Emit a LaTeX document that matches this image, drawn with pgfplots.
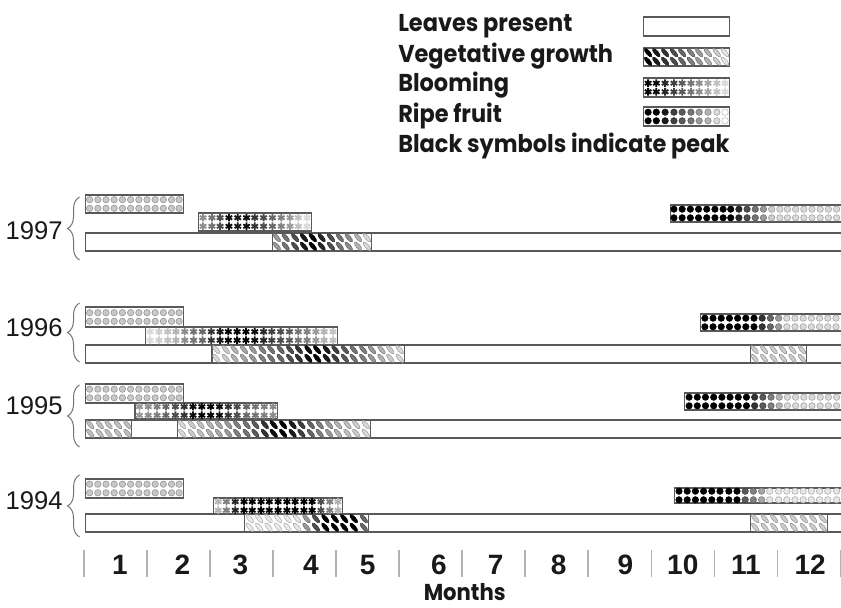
\documentclass[border=0pt]{standalone}
\usepackage{pgfplots}
\pgfplotsset{compat=1.18}
\usepackage{pgfplotstable}
\usepackage{fontspec}
\setmainfont{Liberation Sans}
\newfontfamily\pop{Poppins}[FakeStretch=0.92]
\usetikzlibrary{decorations.pathreplacing}

\pgfdeclareplotmark{leaf}{%
  \pgfpathellipse{\pgfpointorigin}{\pgfpoint{0.7\pgfplotmarksize}{-0.8\pgfplotmarksize}}{\pgfpoint{0.3\pgfplotmarksize}{0.26\pgfplotmarksize}}%
  \pgfusepathqfillstroke}

% symbol tables: x (month), c (0 = black = peak, 1 = white)
\pgfplotstableread[row sep=\\]{x c\\0.09 .78\\0.22 .78\\0.35 .78\\0.48 .78\\0.61 .78\\0.74 .78\\0.87 .78\\1.00 .78\\1.13 .78\\1.26 .78\\1.39 .78\\1.51 .78\\}\fruitL
% 1997
\pgfplotstableread[row sep=\\]{x c\\1.89 .55\\2.03 .45\\2.16 .3\\2.30 .05\\2.44 .1\\2.58 .05\\2.71 .2\\2.85 .3\\2.99 .4\\3.13 .5\\3.27 .6\\3.40 .75\\3.54 .85\\}\bA
\pgfplotstableread[row sep=\\]{x c\\3.06 .6\\3.20 .45\\3.35 .3\\3.49 .1\\3.63 0\\3.77 .15\\3.92 .3\\4.06 .45\\4.20 .55\\4.35 .7\\4.49 .85\\}\vA
\pgfplotstableread[row sep=\\]{x c\\9.36 0\\9.49 0\\9.62 0\\9.75 0\\9.88 0\\10.01 0\\10.14 0\\10.26 0\\10.39 .15\\10.52 .3\\10.65 .45\\10.78 .6\\10.91 .8\\11.04 .85\\11.16 .85\\11.29 .85\\11.42 .85\\11.55 .85\\11.68 .85\\11.81 .85\\11.94 .85\\}\fA
% 1996
\pgfplotstableread[row sep=\\]{x c\\1.05 .85\\1.19 .8\\1.33 .75\\1.46 .7\\1.60 .55\\1.74 .45\\1.88 .4\\2.02 .2\\2.16 .1\\2.29 0\\2.43 0\\2.57 0\\2.71 .05\\2.85 .15\\2.98 .25\\3.12 .3\\3.26 .35\\3.40 .45\\3.54 .5\\3.68 .6\\3.81 .7\\3.95 .75\\}\bB
\pgfplotstableread[row sep=\\]{x c\\2.10 .85\\2.25 .8\\2.39 .7\\2.54 .65\\2.68 .6\\2.83 .5\\2.97 .45\\3.12 .4\\3.27 .3\\3.41 .2\\3.56 .05\\3.70 0\\3.85 .1\\3.99 .25\\4.14 .35\\4.28 .45\\4.43 .5\\4.57 .6\\4.72 .7\\4.86 .8\\5.01 .85\\}\vB
\pgfplotstableread[row sep=\\]{x c\\9.85 0\\9.98 0\\10.11 0\\10.24 0\\10.37 0\\10.50 0\\10.63 0\\10.76 .2\\10.89 .4\\11.02 .6\\11.15 .85\\11.28 .85\\11.41 .85\\11.54 .85\\11.67 .85\\11.80 .85\\11.93 .85\\}\fB
\pgfplotstableread[row sep=\\]{x c\\10.64 .8\\10.79 .8\\10.94 .8\\11.09 .8\\11.24 .8\\11.39 .8\\}\wB
% 1995
\pgfplotstableread[row sep=\\]{x c\\0.88 .6\\1.02 .55\\1.16 .5\\1.30 .4\\1.45 .3\\1.59 .2\\1.73 .05\\1.87 0\\2.01 0\\2.15 .05\\2.29 .2\\2.43 .3\\2.58 .4\\2.72 .45\\2.86 .5\\3.00 .55\\}\bC
\pgfplotstableread[row sep=\\]{x c\\0.10 .75\\0.25 .75\\0.39 .75\\0.54 .75\\0.69 .75\\}\uC
\pgfplotstableread[row sep=\\]{x c\\1.56 .85\\1.71 .8\\1.85 .75\\2.00 .7\\2.14 .65\\2.29 .6\\2.43 .5\\2.58 .45\\2.72 .35\\2.87 .2\\3.01 .05\\3.16 0\\3.31 .1\\3.45 .25\\3.60 .4\\3.74 .5\\3.89 .6\\4.03 .7\\4.18 .75\\4.32 .8\\4.47 .85\\}\vC
\pgfplotstableread[row sep=\\]{x c\\9.60 0\\9.73 0\\9.86 0\\9.99 0\\10.12 0\\10.25 0\\10.38 0\\10.51 0\\10.64 .2\\10.77 .35\\10.90 .5\\11.03 .7\\11.16 .85\\11.29 .85\\11.42 .85\\11.55 .85\\11.68 .85\\11.81 .85\\11.94 .85\\}\fC
% 1994
\pgfplotstableread[row sep=\\]{x c\\2.13 .7\\2.26 .5\\2.40 .15\\2.54 0\\2.67 0\\2.81 0\\2.94 0\\3.08 0\\3.22 0\\3.35 0\\3.49 0\\3.62 0\\3.76 .3\\3.90 .5\\4.03 .7\\}\bD
\pgfplotstableread[row sep=\\]{x c\\2.63 .92\\2.78 .92\\2.93 .92\\3.08 .92\\3.23 .92\\3.38 .9\\3.53 .6\\3.68 .3\\3.83 0\\3.98 0\\4.13 0\\4.28 0\\4.44 .4\\}\vD
\pgfplotstableread[row sep=\\]{x c\\9.44 0\\9.57 0\\9.70 0\\9.83 0\\9.96 0\\10.09 0\\10.23 0\\10.36 0\\10.49 .35\\10.62 .5\\10.75 .65\\10.88 .9\\11.02 .9\\11.15 .9\\11.28 .9\\11.41 .9\\11.54 .9\\11.67 .9\\11.80 .9\\11.94 .9\\}\fD
\pgfplotstableread[row sep=\\]{x c\\10.65 .8\\10.80 .8\\10.95 .8\\11.11 .8\\11.26 .8\\11.42 .8\\11.57 .8\\11.72 .8\\}\wD
% legend
\pgfplotstableread[row sep=\\]{x c\\8.95 0\\9.08 .1\\9.22 .2\\9.36 .3\\9.49 .4\\9.63 .5\\9.76 .6\\9.90 .7\\10.04 .8\\10.17 .9\\}\legV
\pgfplotstableread[row sep=\\]{x c\\8.95 0\\9.08 .05\\9.22 .15\\9.36 .25\\9.49 .35\\9.63 .45\\9.76 .55\\9.90 .65\\10.04 .75\\10.17 .85\\}\legB
\pgfplotstableread[row sep=\\]{x c\\8.95 0\\9.08 0\\9.22 .1\\9.36 .25\\9.49 .35\\9.63 .45\\9.76 .6\\9.90 .7\\10.04 .85\\10.17 1\\}\legF

\pgfplotsset{
  fr/.style={only marks, scatter, point meta=explicit, mark=*, mark size=1.6pt,
    scatter/use mapped color={draw=mapped color!75!black, fill=mapped color}, mark options={line width=0.3pt}},
  bl/.style={only marks, scatter, point meta=explicit, mark=asterisk, mark size=1.9pt,
    scatter/use mapped color={draw=mapped color, fill=mapped color}, mark options={line width=0.9pt}},
  vg/.style={only marks, scatter, point meta=explicit, mark=leaf, mark size=2.5pt,
    scatter/use mapped color={draw=mapped color!75!black, fill=mapped color}, mark options={line width=0.3pt}},
}
\newcommand{\phbar}[4]{\addplot[fill=white, draw=black!65, line width=0.6pt] coordinates {(#1,#3) (#2,#3) (#2,#4) (#1,#4)} -- cycle;}
\newcommand{\syms}[3]{%
  \addplot[#3] table[x=x, y expr=#2-4.3, meta=c] {#1};
  \addplot[#3] table[x=x, y expr=#2+4.3, meta=c] {#1};}
\newcommand{\legtext}[2]{\node[anchor=base west, inner sep=0pt, text=black!90, font=\pop\bfseries\fontsize{12.2}{14}\selectfont] at (4.98,#1) {#2};}
\newcommand{\yrtext}[2]{\node[anchor=base east, inner sep=0pt, text=black!90, font=\fontsize{12.8}{14}\selectfont] at (-0.333,#1) {#2};}
\newcommand{\motext}[2]{\node[anchor=base, inner sep=0pt, text=black!90, font=\bfseries\fontsize{14}{16}\selectfont] at (#1,575) {#2};}
\newcommand{\brc}[2]{\draw[black!55, line width=0.5pt, decorate, decoration={brace, amplitude=6pt}] (-0.07,#1) -- (-0.07,#2);}

\begin{document}
\begin{tikzpicture}
\begin{axis}[
  width=420.5pt, height=304pt, scale only axis,
  xmin=-1.332, xmax=12.01, ymin=0, ymax=608, y dir=reverse,
  hide axis, clip mode=individual,
  point meta min=0, point meta max=1,
  colormap={gr}{gray(0cm)=(0); gray(1cm)=(1)},
]
% ---- legend boxes
\phbar{8.88}{10.24}{17}{36}
\phbar{8.88}{10.24}{48}{66}
\phbar{8.88}{10.24}{78}{97}
\phbar{8.88}{10.24}{107}{126}
\syms{\legV}{57}{vg}
\syms{\legB}{87.5}{bl}
\syms{\legF}{116.5}{fr}
% ---- 1997
\phbar{0.03}{12.2}{233}{251}
\phbar{2.99}{4.56}{233}{251}
\phbar{0.03}{1.58}{195}{213}
\phbar{1.82}{3.61}{213}{231}
\phbar{9.30}{12.2}{205}{222}
\syms{\fruitL}{204}{fr}
\syms{\bA}{222}{bl}
\syms{\vA}{242}{vg}
\syms{\fA}{213.5}{fr}
% ---- 1996
\phbar{0.03}{12.2}{345}{363}
\phbar{2.03}{5.08}{345}{363}
\phbar{10.57}{11.46}{345}{363}
\phbar{0.03}{1.58}{307}{327}
\phbar{0.98}{4.02}{327}{345}
\phbar{9.78}{12.2}{314}{331}
\syms{\fruitL}{317}{fr}
\syms{\bB}{336}{bl}
\syms{\vB}{354}{vg}
\syms{\wB}{354}{vg}
\syms{\fB}{322.5}{fr}
% ---- 1995
\phbar{0.03}{12.2}{420}{438}
\phbar{0.03}{0.76}{420}{438}
\phbar{1.49}{4.54}{420}{438}
\phbar{0.03}{1.58}{384}{403}
\phbar{0.81}{3.07}{403}{419}
\phbar{9.53}{12.2}{393}{410}
\syms{\fruitL}{393.5}{fr}
\syms{\bC}{411}{bl}
\syms{\uC}{429}{vg}
\syms{\vC}{429}{vg}
\syms{\fC}{401.5}{fr}
% ---- 1994
\phbar{0.03}{12.2}{514}{532}
\phbar{2.55}{4.51}{514}{532}
\phbar{10.57}{11.80}{514}{532}
\phbar{0.03}{1.58}{479}{498}
\phbar{2.06}{4.10}{498}{514}
\phbar{9.37}{12.2}{488}{503}
\syms{\fruitL}{488.5}{fr}
\syms{\bD}{506}{bl}
\syms{\vD}{523}{vg}
\syms{\wD}{523}{vg}
\syms{\fD}{495.5}{fr}
% ---- month separators
\addplot[black!30, line width=0.75pt, unbounded coords=jump] coordinates {
 (0,550) (0,577) (nan,nan) (1,550) (1,577) (nan,nan) (2,550) (2,577) (nan,nan)
 (3,550) (3,577) (nan,nan) (4,550) (4,577) (nan,nan) (5,550) (5,577) (nan,nan)
 (6,550) (6,577) (nan,nan) (7,550) (7,577) (nan,nan) (8,550) (8,577) (nan,nan)
 (9,550) (9,577) (nan,nan) (10,550) (10,577) (nan,nan) (11,550) (11,577) (nan,nan)
 (12,550) (12,577)};
% ---- texts
\legtext{32}{Leaves present}
\legtext{63}{Vegetative growth}
\legtext{92}{Blooming}
\legtext{123}{Ripe fruit}
\legtext{153}{Black symbols indicate peak}
\yrtext{240}{1997}
\yrtext{337}{1996}
\yrtext{415}{1995}
\yrtext{510}{1994}
\motext{0.57}{1}
\motext{1.56}{2}
\motext{2.48}{3}
\motext{3.6}{4}
\motext{4.5}{5}
\motext{5.63}{6}
\motext{6.53}{7}
\motext{7.53}{8}
\motext{8.59}{9}
\motext{9.5}{10}
\motext{10.5}{11}
\motext{11.52}{12}
\node[anchor=base, inner sep=0pt, text=black!90, font=\pop\bfseries\fontsize{11.5}{13}\selectfont] at (6.04,601) {Months};
\brc{260}{197}
\brc{362}{303}
\brc{447}{385}
\brc{537}{475}
\end{axis}
\pgfresetboundingbox
\useasboundingbox (current axis.south west) rectangle (current axis.north east);
\end{tikzpicture}
\end{document}
